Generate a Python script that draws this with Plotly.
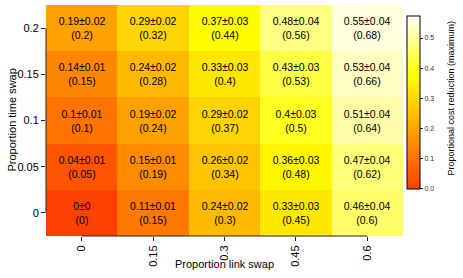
import colorsys
import plotly.graph_objects as go

link_swap = ["0", "0.15", "0.3", "0.45", "0.6"]
time_swap = ["0", "0.05", "0.1", "0.15", "0.2"]

# rows: time swap 0 .. 0.2 ; columns: link swap 0 .. 0.6
mean_red = [
    [0.00, 0.11, 0.24, 0.33, 0.46],
    [0.04, 0.15, 0.26, 0.36, 0.47],
    [0.10, 0.19, 0.29, 0.40, 0.51],
    [0.14, 0.24, 0.33, 0.43, 0.53],
    [0.19, 0.29, 0.37, 0.48, 0.55],
]
sd_red = [
    [0.00, 0.01, 0.02, 0.03, 0.04],
    [0.01, 0.01, 0.02, 0.03, 0.04],
    [0.01, 0.02, 0.02, 0.03, 0.04],
    [0.01, 0.02, 0.03, 0.03, 0.04],
    [0.02, 0.02, 0.03, 0.04, 0.04],
]
max_red = [
    [0.00, 0.15, 0.30, 0.45, 0.60],
    [0.05, 0.19, 0.34, 0.48, 0.62],
    [0.10, 0.24, 0.37, 0.50, 0.64],
    [0.15, 0.28, 0.40, 0.53, 0.66],
    [0.20, 0.32, 0.44, 0.56, 0.68],
]
cbar_ticks = [0.0, 0.1, 0.2, 0.3, 0.4, 0.5]

ZMAX = 0.573
YEL = 0.375

def hexc(h, s, v):
    r, g, b = colorsys.hsv_to_rgb(h, s, v)
    return "#%02x%02x%02x" % (round(r * 255), round(g * 255), round(b * 255))

scale = []
N = 40
for i in range(N + 1):
    t = i / N
    v = t * ZMAX
    if v <= YEL:
        h = (15 + 45 * v / YEL) / 360
        s = 1.0
    else:
        h = 60 / 360
        s = 1 - 0.97 * (v - YEL) / (ZMAX - YEL)
    scale.append([t, hexc(h, s, 1)])

text = [[f"{m:g}±{s:g}<br>({x:g})" for m, s, x in zip(mr, sr, xr)]
        for mr, sr, xr in zip(mean_red, sd_red, max_red)]

FONT = "Liberation Sans, Arial, Helvetica, sans-serif"
AX = "#222222"

fig = go.Figure(go.Heatmap(
    x=link_swap, y=time_swap, z=mean_red,
    zmin=0, zmax=ZMAX, colorscale=scale,
    text=text, texttemplate="%{text}",
    textfont=dict(size=10.5, color="black", family=FONT),
    xgap=0, ygap=0,
    colorbar=dict(
        x=1.011, xanchor="left", xpad=0,
        y=0.578, yanchor="middle",
        thickness=13, thicknessmode="pixels",
        len=173, lenmode="pixels",
        outlinewidth=1, outlinecolor="black",
        tickvals=cbar_ticks, tickformat=".1f",
        ticks="outside", ticklen=3, tickcolor=AX,
        tickfont=dict(size=7, color="#333333", family=FONT),
        ypad=0,
    ),
))

W, H = 463, 278
L, R, T, B = 46, 60, 5, 42

fig.update_layout(
    width=W, height=H,
    margin=dict(l=L, r=R, t=T, b=B, pad=0),
    paper_bgcolor="white", plot_bgcolor="white",
    font=dict(family=FONT, size=11, color="black"),
    xaxis=dict(type="category", ticks="outside", ticklen=4, tickcolor=AX,
               tickangle=-90, showline=False, showgrid=False, zeroline=False,
               tickfont=dict(size=11), automargin=False),
    yaxis=dict(type="category", ticks="outside", ticklen=4, tickcolor=AX,
               showline=False, showgrid=False, zeroline=False,
               tickfont=dict(size=11), automargin=False),
    shapes=[
        dict(type="line", xref="x", yref="paper", x0=0, x1=4, y0=0, y1=0,
             line=dict(color=AX, width=1)),
        dict(type="line", xref="paper", yref="y", x0=0, x1=0, y0=0, y1=4,
             line=dict(color=AX, width=1)),
    ],
    annotations=[
        dict(text="Proportion link swap", xref="paper", yref="paper",
             x=0.5, y=(236 - 264) / 231, xanchor="center", yanchor="middle",
             showarrow=False, font=dict(size=11)),
        dict(text="Proportion time swap", xref="paper", yref="paper",
             x=(11 - L) / 357, y=0.5, xanchor="center", yanchor="middle",
             textangle=-90, showarrow=False, font=dict(size=11)),
        dict(text="Proportional cost reduction (maximum)", xref="paper", yref="paper",
             x=(450 - L) / 357, y=(236 - 98.5) / 231, xanchor="center", yanchor="middle",
             textangle=-90, showarrow=False, font=dict(size=9)),
    ],
)

fig.write_html(
    "out.html",
    config={"displayModeBar": False},
    post_script="document.body.style.margin='0';document.body.style.overflow='hidden';",
)
